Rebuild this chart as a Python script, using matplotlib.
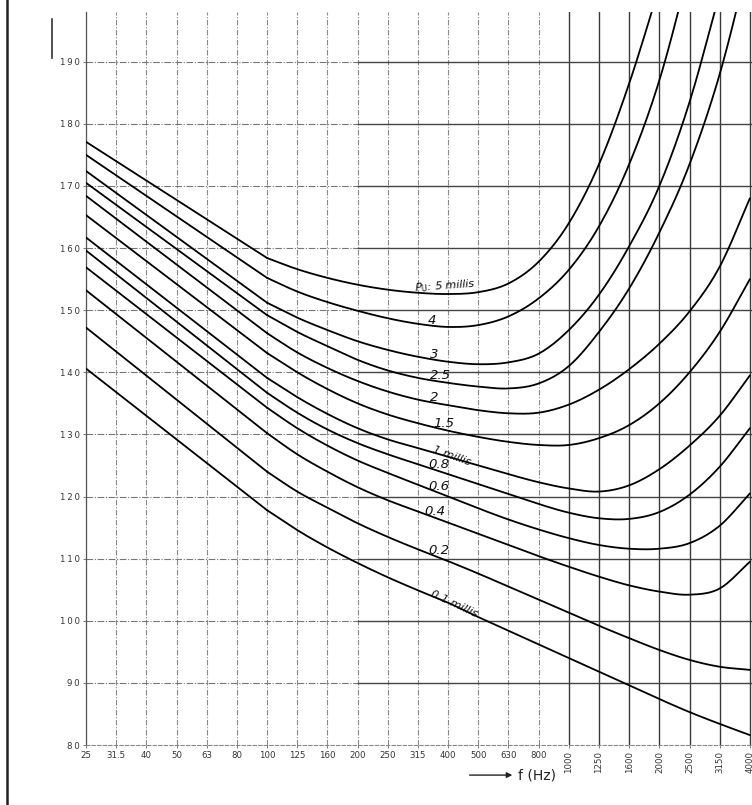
import numpy as np
import matplotlib
matplotlib.use("Agg")
from matplotlib import pyplot as plt
from matplotlib.lines import Line2D
from matplotlib.transforms import ScaledTranslation

# one-third octave bands (Hz), equally spaced on the chart
freq_labels = ["25", "31.5", "40", "50", "63", "80", "100", "125", "160", "200",
               "250", "315", "400", "500", "630", "800", "1000", "1250", "1600",
               "2000", "2500", "3150", "4000"]
level_ticks = [80, 90, 100, 110, 120, 130, 140, 150, 160, 170, 180, 190]

# level: first value at 25 Hz, then 100 Hz, 125 Hz, ... upward
pu_5 = [177.1, 158.4, 156.6, 155.2, 154.1, 153.3, 152.8, 152.6, 152.9, 154.3,
        157.8, 164.0, 173.5, 186.5, 202.0]
pu_4 = [175.0, 155.2, 153.0, 151.3, 149.9, 148.7, 147.8, 147.3, 147.6, 149.0,
        151.9, 156.5, 163.5, 173.5, 187.0, 205.0]
pu_3 = [172.4, 151.2, 148.8, 146.8, 145.0, 143.6, 142.5, 141.7, 141.3, 141.6,
        143.0, 146.8, 152.5, 160.3, 170.0, 183.5, 201.0]
pu_2_5 = [170.5, 149.2, 146.5, 144.2, 142.0, 140.3, 139.1, 138.3, 137.7, 137.4,
          138.2, 141.0, 146.5, 153.5, 162.5, 173.5, 188.0, 207.0]
pu_2 = [168.4, 146.3, 143.2, 140.7, 138.6, 136.9, 135.6, 134.7, 133.9, 133.4,
        133.5, 134.8, 137.2, 140.5, 144.6, 149.8, 157.0, 168.0]
pu_1_5 = [165.3, 143.1, 140.0, 137.3, 135.0, 133.2, 131.8, 130.6, 129.6, 128.8,
          128.3, 128.3, 129.4, 131.5, 135.0, 140.0, 146.5, 155.0]
pu_1 = [161.7, 139.1, 136.0, 133.3, 131.0, 129.2, 127.8, 126.4, 125.0, 123.6,
        122.3, 121.3, 120.8, 121.8, 124.4, 128.2, 133.0, 139.5]
pu_0_8 = [159.6, 136.7, 133.5, 130.8, 128.6, 126.8, 125.2, 123.6, 122.0, 120.4,
          118.8, 117.4, 116.5, 116.4, 117.5, 120.3, 124.8, 131.0]
pu_0_6 = [156.9, 134.3, 131.0, 128.2, 125.8, 123.8, 121.9, 120.0, 118.1, 116.3,
          114.7, 113.3, 112.2, 111.6, 111.6, 112.5, 115.3, 120.5]
pu_0_4 = [153.2, 130.2, 126.8, 124.0, 121.5, 119.4, 117.6, 115.8, 114.0, 112.2,
          110.4, 108.7, 107.1, 105.7, 104.7, 104.2, 105.2, 109.5]
pu_0_2 = [147.2, 124.0, 120.8, 118.2, 115.7, 113.5, 111.5, 109.6, 107.6, 105.5,
          103.4, 101.3, 99.2, 97.2, 95.3, 93.7, 92.6, 92.1]
pu_0_1 = [140.6, 117.8, 114.6, 111.8, 109.3, 107.0, 104.9, 102.9, 100.6, 98.4,
          96.2, 94.0, 91.8, 89.6, 87.4, 85.3, 83.4, 81.6]

curves = [pu_5, pu_4, pu_3, pu_2_5, pu_2, pu_1_5, pu_1, pu_0_8, pu_0_6,
          pu_0_4, pu_0_2, pu_0_1]

# curve labels (same order as curves): text, band index of left edge, rotation
curve_labels = [
    ("P$_\\mathrm{U}$: 5 millis", 10.9, 4),
    ("4", 11.33, 0),
    ("3", 11.4, 0),
    ("2.5", 11.4, 0),
    ("2", 11.4, 0),
    ("1.5", 11.5, 0),
    ("1 millis", 11.46, -20),
    ("0.8", 11.33, 0),
    ("0.6", 11.33, 0),
    ("0.4", 11.2, 0),
    ("0.2", 11.33, 0),
    ("0.1 millis", 11.4, -25),
]


def band_index(vals):
    return [0] + list(range(6, 6 + len(vals) - 1))


def catmull(xs, ys, n=12):
    xs = np.asarray(xs, float)
    ys = np.asarray(ys, float)
    px = np.concatenate([[2 * xs[0] - xs[1]], xs, [2 * xs[-1] - xs[-2]]])
    py = np.concatenate([[2 * ys[0] - ys[1]], ys, [2 * ys[-1] - ys[-2]]])
    t = np.linspace(0, 1, n, endpoint=False)
    ox, oy = [], []
    for i in range(1, len(px) - 2):
        for p, o in ((px, ox), (py, oy)):
            p0, p1, p2, p3 = p[i - 1], p[i], p[i + 1], p[i + 2]
            o.extend(0.5 * (2 * p1 + (-p0 + p2) * t
                            + (2 * p0 - 5 * p1 + 4 * p2 - p3) * t ** 2
                            + (-p0 + 3 * p1 - 3 * p2 + p3) * t ** 3))
    ox.append(xs[-1])
    oy.append(ys[-1])
    return ox, oy


fig = plt.figure(figsize=(7.52, 8.05), dpi=100)
ax = fig.add_axes([0.1144, 0.0745, 0.8856, 0.9106])
ax.set_xlim(0, 22.07)
ax.set_ylim(80, 198)

# grid
for i in range(len(freq_labels)):
    if i < 16:
        ax.axvline(i, color="#8a8a8a", lw=0.8, ls=(0, (5, 1.5, 1, 1.5)), zorder=1)
    else:
        ax.axvline(i, color="#3a3a3a", lw=1.0, zorder=1)
for lv in level_ticks[1:]:
    ax.plot([0, 9], [lv, lv], color="#777777", lw=0.8, ls=(0, (6, 1.5, 1, 1.5)), zorder=1)
    ax.plot([9, 22.07], [lv, lv], color="#444444", lw=1.0, zorder=1)

for vals, (txt, lx, rot) in zip(curves, curve_labels):
    xs = band_index(vals)
    ax.plot(xs[:2], vals[:2], color="black", lw=1.3, zorder=3)
    sx, sy = catmull(xs[1:], vals[1:])
    ax.plot(sx, sy, color="black", lw=1.3, zorder=3, solid_capstyle="round")
    # label sits on its curve
    ly = np.interp(lx + 0.3, sx, sy) + 0.4
    small = "millis" in txt
    ax.text(lx, ly, txt, fontsize=9.5 if not small else 8, style="italic",
            rotation=rot, rotation_mode="anchor", ha="left", va="baseline",
            color="#111111", zorder=4)

ax.set_xticks(range(len(freq_labels)))
ax.set_xticklabels(freq_labels)
shift = ScaledTranslation(0, -5 / 72, fig.dpi_scale_trans)
for i, lab in enumerate(ax.get_xticklabels()):
    lab.set_fontsize(6.2)
    lab.set_color("#333333")
    if i >= 16:
        lab.set_rotation(90)
        lab.set_va("top")
        lab.set_transform(lab.get_transform() + shift)
ax.set_yticks(level_ticks)
ax.set_yticklabels(["\u2009".join(str(v)) for v in level_ticks], fontsize=6.2,
                   color="#333333")
ax.tick_params(axis="both", length=2.5, width=0.6, color="#666666", pad=2)

for side in ("top", "right"):
    ax.spines[side].set_visible(False)
ax.spines["left"].set_color("#555555")
ax.spines["left"].set_linewidth(0.9)
ax.spines["bottom"].set_color("#888888")
ax.spines["bottom"].set_linewidth(0.8)
ax.spines["bottom"].set_linestyle((0, (3, 2)))

# axis title with arrow
ax.annotate("", xy=(14.22, -0.041), xytext=(12.62, -0.041),
            xycoords=("data", "axes fraction"),
            arrowprops=dict(arrowstyle="-|>", color="#222222", lw=1.0,
                            mutation_scale=8))
ax.text(14.3, -0.041, "f (Hz)", transform=ax.get_xaxis_transform(),
        fontsize=10, ha="left", va="center", color="#222222")

# scan border and mark
fig.add_artist(Line2D([0.0095, 0.0095], [0, 1], color="#222222", lw=1.8))
fig.add_artist(Line2D([0.069, 0.069], [0.928, 0.977], color="#333333", lw=1.2))

fig.savefig("out.png", dpi=100)
